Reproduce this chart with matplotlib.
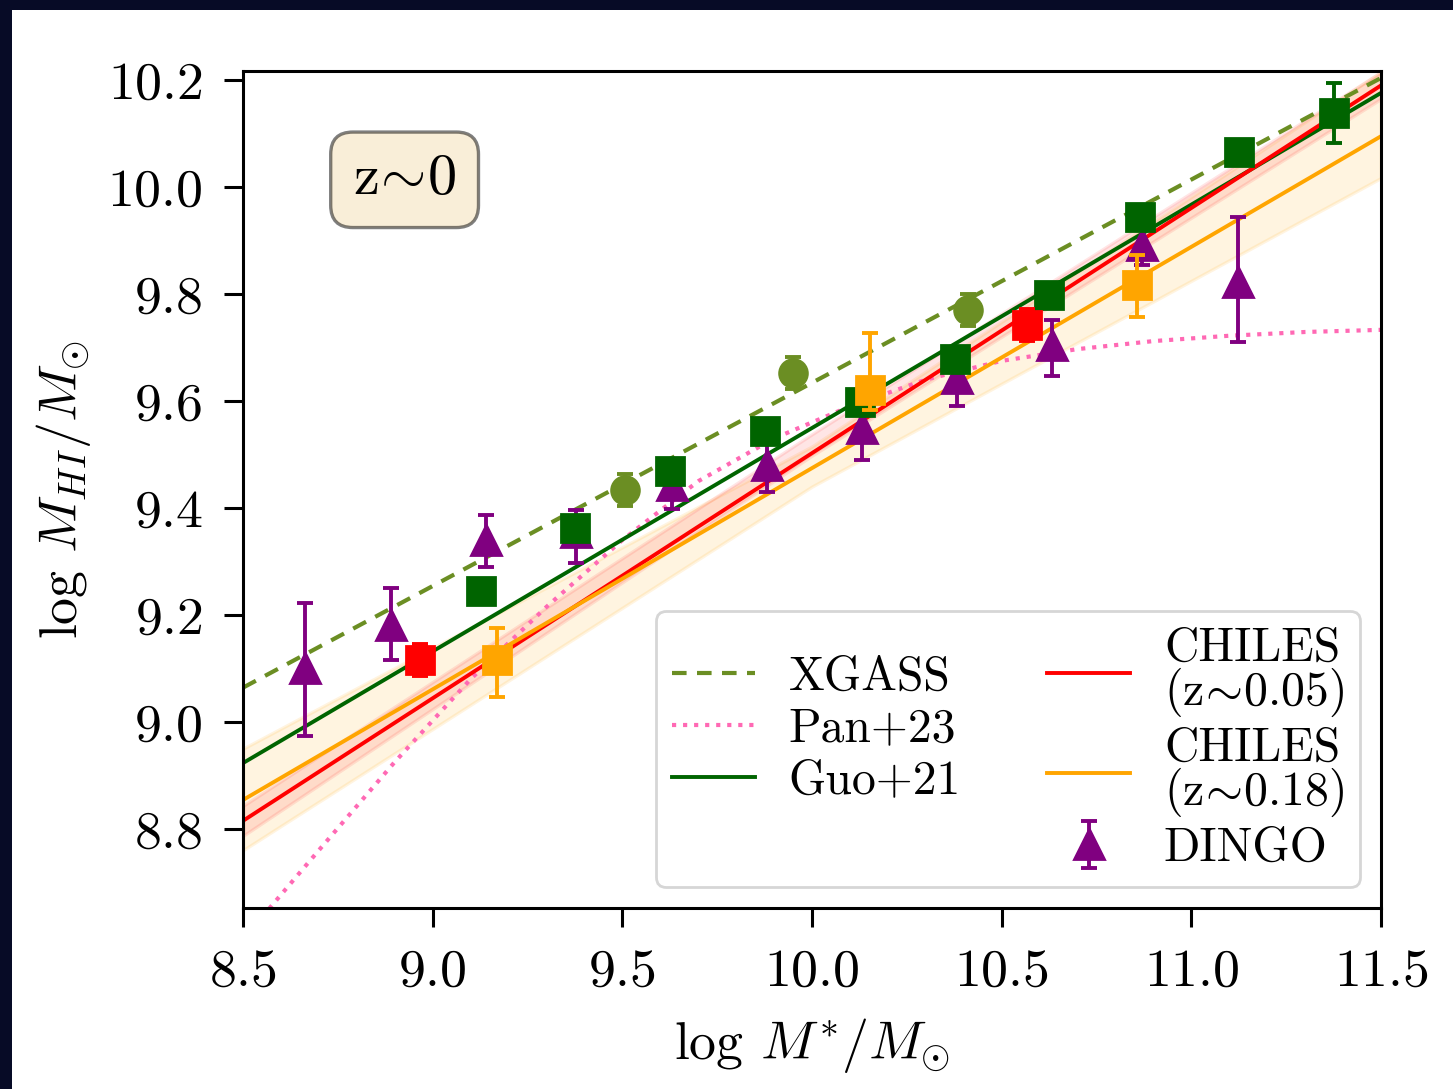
import numpy as np
import matplotlib
matplotlib.use("Agg")
import matplotlib.pyplot as plt
from matplotlib.patches import Rectangle

plt.rcParams['font.family'] = 'serif'
plt.rcParams['font.serif'] = ['cmr10']
plt.rcParams['mathtext.fontset'] = 'cm'
plt.rcParams['axes.unicode_minus'] = False
plt.rcParams['axes.formatter.use_mathtext'] = True

# ---------------- data ----------------
fit_x = [8.5, 11.5]
xgass_line = [9.064, 10.204]
guo_line = [8.923, 10.176]
chiles05_line = [8.815, 10.190]
chiles18_line = [8.854, 10.095]

band_x = [8.5, 10.0, 11.5]
chiles05_lo = [8.787, 9.498, 10.165]
chiles05_hi = [8.843, 9.538, 10.215]
chiles18_lo = [8.760, 9.440, 10.017]
chiles18_hi = [8.950, 9.515, 10.215]

pan_x = [8.55, 8.7, 8.9, 9.1, 9.3, 9.5, 9.7, 9.9, 10.1, 10.3, 10.5, 10.7, 10.9, 11.1, 11.3, 11.5]
pan_y = [8.635, 8.76, 8.925, 9.08, 9.215, 9.34, 9.45, 9.53, 9.59, 9.64, 9.675, 9.697, 9.712, 9.722, 9.729, 9.733]

xgass_x = [9.507, 9.950, 10.411]
xgass_y = [9.434, 9.652, 9.770]
xgass_err = [0.03, 0.03, 0.03]

guo_x = [9.127, 9.375, 9.626, 9.876, 10.127, 10.377, 10.625, 10.865, 11.126, 11.376]
guo_y = [9.245, 9.363, 9.469, 9.544, 9.598, 9.679, 9.798, 9.944, 10.065, 10.138]
guo_err = [0.02, 0.02, 0.02, 0.02, 0.02, 0.02, 0.02, 0.02, 0.02, 0.056]

c05_x = [8.967, 10.567]
c05_y = [9.116, 9.742]
c05_err = [0.03, 0.03]

c18_x = [9.170, 10.153, 10.857]
c18_y = [9.116, 9.621, 9.817]
c18_lo = [0.069, 0.038, 0.060]
c18_hi = [0.060, 0.106, 0.056]

dingo_x = [8.663, 8.890, 9.141, 9.378, 9.631, 9.881, 10.132, 10.382, 10.633, 10.870, 11.123]
dingo_y = [9.101, 9.181, 9.340, 9.355, 9.443, 9.480, 9.550, 9.643, 9.705, 9.892, 9.822]
dingo_lo = [0.127, 0.065, 0.050, 0.058, 0.045, 0.050, 0.060, 0.052, 0.058, 0.037, 0.112]
dingo_hi = [0.121, 0.069, 0.047, 0.041, 0.030, 0.047, 0.043, 0.043, 0.047, 0.043, 0.122]

# ---------------- figure ----------------
fig = plt.figure(figsize=(7.265, 5.445), dpi=200, facecolor='#070b26')
fig.patches.append(Rectangle((12/1453, 0), 1 - 12/1453, 1 - 10/1089,
                             transform=fig.transFigure, facecolor='white',
                             edgecolor='none', zorder=-10))
ax = fig.add_axes([243/1453, 1 - 908/1089, (1381-243)/1453, (908-71)/1089])

# bands
ax.fill_between(band_x, chiles18_lo, chiles18_hi, color='orange', alpha=0.12, lw=1.2, zorder=1)
ax.fill_between(band_x, chiles05_lo, chiles05_hi, color='red', alpha=0.10, lw=1.2, zorder=1)

# lines
ax.plot(fit_x, xgass_line, ls=(0, (3.5, 2.5)), color='#6b8e23', lw=1.5, label='XGASS', zorder=2)
ax.plot(pan_x, pan_y, ls=':', color='#ff69b4', lw=1.5, label='Pan+23', zorder=2)
ax.plot(fit_x, guo_line, color='darkgreen', lw=1.4, label='Guo+21', zorder=2)
ax.plot(fit_x, chiles05_line, color='red', lw=1.4, label='CHILES\n(z$\\!\\sim\\!$0.05)', zorder=2)
ax.plot(fit_x, chiles18_line, color='orange', lw=1.4, label='CHILES\n(z$\\!\\sim\\!$0.18)', zorder=2)

ekw = dict(elinewidth=1.4, capsize=2.8, capthick=1.4, linestyle='none')
ax.errorbar(dingo_x, dingo_y, yerr=[dingo_lo, dingo_hi], fmt='^', color='purple',
            ms=11, label='DINGO', zorder=3, **ekw)
ax.errorbar(xgass_x, xgass_y, yerr=xgass_err, fmt='o', color='#6b8e23', ms=10, zorder=3, **ekw)
ax.errorbar(guo_x, guo_y, yerr=guo_err, fmt='s', color='darkgreen', ms=10, zorder=4, **ekw)
ax.errorbar(c18_x, c18_y, yerr=[c18_lo, c18_hi], fmt='s', color='orange', ms=10, zorder=5, **ekw)
ax.errorbar(c05_x, c05_y, yerr=c05_err, fmt='s', color='red', ms=10, zorder=5, **ekw)

ax.set_xlim(8.5, 11.5)
ax.set_ylim(8.652, 10.217)
ax.set_xticks([8.5, 9.0, 9.5, 10.0, 10.5, 11.0, 11.5])
ax.set_yticks([8.8, 9.0, 9.2, 9.4, 9.6, 9.8, 10.0, 10.2])
ax.tick_params(labelsize=19.4, length=7, width=1.1)
ax.tick_params(axis='y', pad=7.5)
ax.tick_params(axis='x', pad=7.5)
for s in ax.spines.values():
    s.set_linewidth(1.1)

ax.set_xlabel(r'log $M^{*}/M_{\odot}$', fontsize=19.4, labelpad=7.5)
ax.set_ylabel(r'log $M_{HI}/M_{\odot}$', fontsize=19.4, labelpad=5)

ax.text(0.142, 0.87, r'z$\!\sim\!$0', transform=ax.transAxes, fontsize=21,
        ha='center', va='center',
        bbox=dict(boxstyle='round,pad=0.38', facecolor='wheat', alpha=0.5, edgecolor='black', lw=1.2))

leg = ax.legend(loc='lower right', ncol=2, fontsize=17.2, handlelength=1.75,
                handletextpad=0.7, columnspacing=1.8, labelspacing=0.16,
                borderaxespad=0.45, borderpad=0.32)
for t in leg.get_texts():
    t.set_linespacing(0.88)
leg.get_frame().set_edgecolor('#cccccc')

fig.savefig('out.png', dpi=200, facecolor=fig.get_facecolor())
